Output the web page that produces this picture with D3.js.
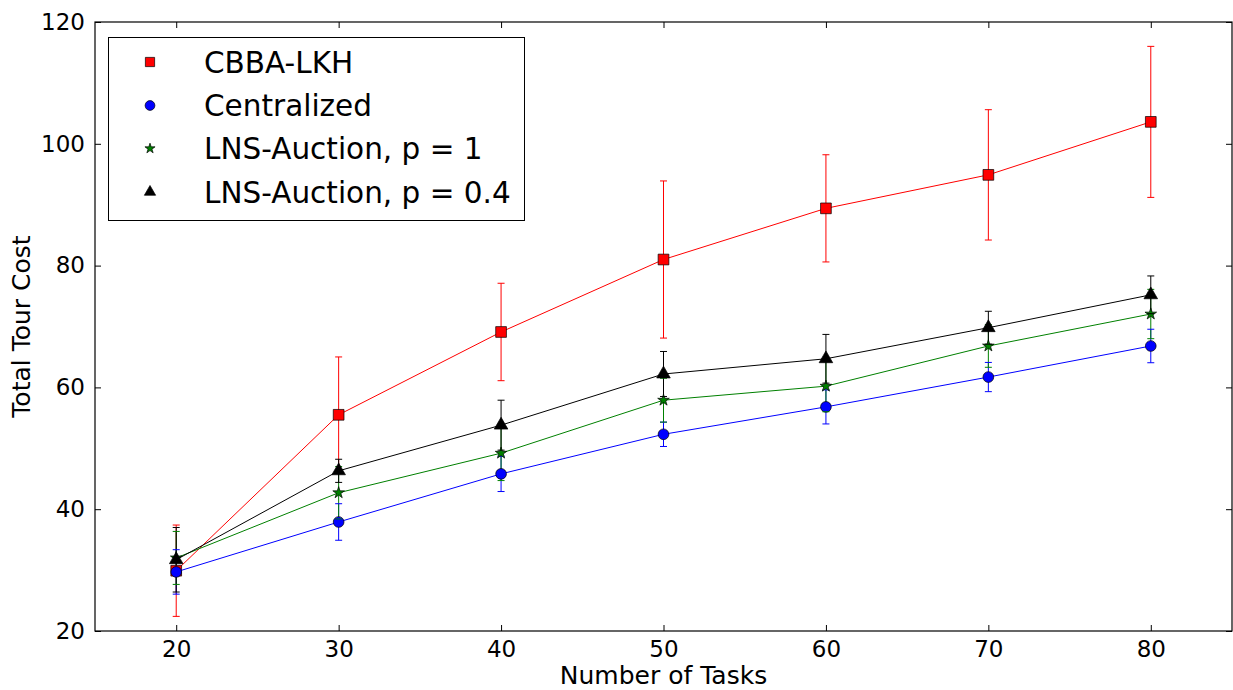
<!DOCTYPE html>
<html>
<head>
<meta charset="utf-8">
<script src="https://cdn.jsdelivr.net/npm/d3@7"></script>
<style>
  html, body { margin: 0; padding: 0; background: #fff; }
  svg { display: block; font-family: "DejaVu Sans", sans-serif; }
</style>
</head>
<body>
<svg id="chart" width="1233" height="690"></svg>
<script>
// ---- data ----
const tasks = [20, 30, 40, 50, 60, 70, 80];
const cbbaMean = [29.9, 55.5, 69.1, 81.0, 89.4, 94.9, 103.6];
const cbbaErr = [7.5, 9.5, 8.0, 12.9, 8.8, 10.7, 12.4];
const centralMean = [29.7, 37.9, 45.8, 52.3, 56.8, 61.7, 66.8];
const centralErr = [3.65, 3.0, 2.9, 2.0, 2.8, 2.4, 2.75];
const lns1Mean = [32.0, 42.7, 49.2, 57.9, 60.2, 66.8, 72.05];
const lns1Err = [4.35, 4.3, 4.5, 3.6, 4.2, 3.5, 4.05];
const lns04Mean = [31.7, 46.3, 53.8, 62.2, 64.7, 69.8, 75.2];
const lns04Err = [5.3, 1.9, 4.1, 3.7, 4.0, 2.7, 3.1];
const seriesNames = ["CBBA-LKH", "Centralized", "LNS-Auction, p = 1", "LNS-Auction, p = 0.4"];
const xTicks = [20, 30, 40, 50, 60, 70, 80];
const yTicks = [20, 40, 60, 80, 100, 120];
const xLabel = "Number of Tasks";
const yLabel = "Total Tour Cost";

// ---- setup ----
const series = [
  { name: seriesNames[0], mean: cbbaMean, err: cbbaErr, color: "#ff0000", symbol: d3.symbolSquare, size: 115, lsize: 85 },
  { name: seriesNames[1], mean: centralMean, err: centralErr, color: "#0000ff", symbol: d3.symbolCircle, size: 90, lsize: 75 },
  { name: seriesNames[2], mean: lns1Mean, err: lns1Err, color: "#008000", symbol: d3.symbolStar, size: 42, lsize: 32 },
  { name: seriesNames[3], mean: lns04Mean, err: lns04Err, color: "#000000", symbol: d3.symbolTriangle, size: 80, lsize: 55 }
];

const svg = d3.select("#chart");
const L = 95, R = 1232, T = 22, B = 631;
const x = d3.scaleLinear().domain([15, 85]).range([L, R]);
const y = d3.scaleLinear().domain([20, 120]).range([B, T]);

const plot = svg.append("g");
plot.append("defs").append("clipPath").attr("id", "clip")
  .append("rect").attr("x", L).attr("y", T).attr("width", R - L).attr("height", B - T);
const inner = plot.append("g").attr("clip-path", "url(#clip)");

// error bar vertical lines (drawn first, beneath all lines)
series.forEach(s => {
  inner.append("g").selectAll("line").data(tasks).join("line")
    .attr("x1", d => x(d)).attr("x2", d => x(d))
    .attr("y1", (d, i) => y(s.mean[i] - s.err[i]))
    .attr("y2", (d, i) => y(s.mean[i] + s.err[i]))
    .attr("stroke", s.color).attr("stroke-width", 1);
});

// caps, lines and markers
const capW = 3.5;
series.forEach(s => {
  const g = inner.append("g");
  ["-", "+"].forEach(sign => {
    g.append("g").selectAll("line").data(tasks).join("line")
      .attr("x1", d => x(d) - capW).attr("x2", d => x(d) + capW)
      .attr("y1", (d, i) => y(sign === "-" ? s.mean[i] - s.err[i] : s.mean[i] + s.err[i]))
      .attr("y2", (d, i) => y(sign === "-" ? s.mean[i] - s.err[i] : s.mean[i] + s.err[i]))
      .attr("stroke", s.color).attr("stroke-width", 1);
  });
  const line = d3.line().x((d, i) => x(d)).y((d, i) => y(s.mean[i]));
  g.append("path").datum(tasks).attr("d", line)
    .attr("fill", "none").attr("stroke", s.color).attr("stroke-width", 1);
  g.append("g").selectAll("path").data(tasks).join("path")
    .attr("transform", (d, i) => `translate(${x(d)},${y(s.mean[i])})`)
    .attr("d", d3.symbol().type(s.symbol).size(s.size))
    .attr("fill", s.color).attr("stroke", "#000").attr("stroke-width", 0.7);
});

// axes (classic: ticks inward, on all four sides)
const tickLen = 6;
const xAxis = plot.append("g").attr("transform", `translate(0,${B})`)
  .call(d3.axisBottom(x).tickValues(xTicks).tickSizeInner(-tickLen).tickSizeOuter(0).tickPadding(10));
const xAxisTop = plot.append("g").attr("transform", `translate(0,${T})`)
  .call(d3.axisTop(x).tickValues(xTicks).tickSizeInner(-tickLen).tickSizeOuter(0).tickFormat(""));
const yAxis = plot.append("g").attr("transform", `translate(${L},0)`)
  .call(d3.axisLeft(y).tickValues(yTicks).tickSizeInner(-tickLen).tickSizeOuter(0).tickPadding(10));
const yAxisRight = plot.append("g").attr("transform", `translate(${R},0)`)
  .call(d3.axisRight(y).tickValues(yTicks).tickSizeInner(-tickLen).tickSizeOuter(0).tickFormat(""));
[xAxis, xAxisTop, yAxis, yAxisRight].forEach(a => {
  a.select(".domain").remove();
  a.selectAll(".tick line").attr("stroke", "#000").attr("stroke-width", 1);
  a.selectAll("text").attr("font-family", "DejaVu Sans").attr("font-size", 23).attr("fill", "#000");
});
plot.append("rect").attr("x", L).attr("y", T).attr("width", R - L).attr("height", B - T)
  .attr("fill", "none").attr("stroke", "#000").attr("stroke-width", 1.2);

// axis labels
svg.append("text").attr("x", (L + R) / 2).attr("y", 684).attr("text-anchor", "middle")
  .attr("font-size", 25).attr("fill", "#000").text(xLabel);
svg.append("text").attr("transform", `translate(30,${(T + B) / 2}) rotate(-90)`)
  .attr("text-anchor", "middle").attr("font-size", 25).attr("fill", "#000").text(yLabel);

// legend
const leg = svg.append("g");
leg.append("rect").attr("x", 108.5).attr("y", 37.5).attr("width", 416).attr("height", 183)
  .attr("fill", "#fff").attr("stroke", "#000").attr("stroke-width", 1);
const rowY = [62, 105.5, 148.5, 192];
series.forEach((s, i) => {
  leg.append("path").attr("transform", `translate(150,${rowY[i]})`)
    .attr("d", d3.symbol().type(s.symbol).size(s.lsize))
    .attr("fill", s.color).attr("stroke", "#000").attr("stroke-width", 0.7);
  leg.append("text").attr("x", 204).attr("y", rowY[i]).attr("dy", "0.36em")
    .attr("font-size", 29.5).attr("fill", "#000").text(s.name);
});
</script>
</body>
</html>
